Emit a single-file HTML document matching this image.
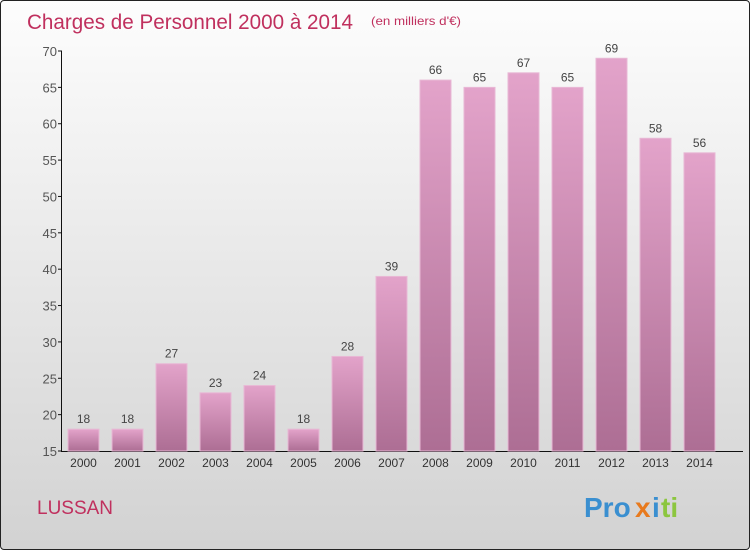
<!DOCTYPE html>
<html><head><meta charset="utf-8"><style>
body{margin:0;width:750px;height:550px;overflow:hidden}
#c{position:absolute;left:0;top:0;width:748px;height:548px;border:1px solid #222;border-radius:4px;background:linear-gradient(#fdfdfd,#d2d2d2);font-family:"Liberation Sans",sans-serif}
</style></head><body>
<div id="c">
<svg width="750" height="550" font-family="Liberation Sans">
<defs><linearGradient id="g" x1="0" y1="0" x2="0" y2="1"><stop offset="0" stop-color="#e3a3ca"/><stop offset="1" stop-color="#ad6e94"/></linearGradient></defs>
<text x="26" y="28" font-size="21" fill="#c0305e" textLength="326" lengthAdjust="spacingAndGlyphs">Charges de Personnel 2000 à 2014</text>
<text x="370" y="24" font-size="12" fill="#c0305e" textLength="90" lengthAdjust="spacingAndGlyphs">(en milliers d'€)</text>
<g id="axes"></g><g id="bars"></g>
<text x="36" y="513" font-size="19" fill="#c0305e">LUSSAN</text>
<g font-size="28" font-weight="bold">
<text x="583" y="516" fill="#3a8fd0">Pro</text><text x="634" y="516" fill="#e87a1d">x</text><text x="651" y="516" fill="#3a8fd0">i</text><text x="660" y="516" fill="#8cc63f">ti</text></g>
</svg></div>
<script>
const years=["2000","2001","2002","2003","2004","2005","2006","2007","2008","2009","2010","2011","2012","2013","2014"];
const values=[18,18,27,23,24,18,28,39,66,65,67,65,69,58,56];
const yTicks=[15,20,25,30,35,40,45,50,55,60,65,70];
const NS="http://www.w3.org/2000/svg";
const y=v=>450-(v-15)*400/55;
const x=i=>82.5+i*44;
function mk(t,a,p,txt){const e=document.createElementNS(NS,t);for(const k in a)e.setAttribute(k,a[k]);if(txt!==undefined)e.textContent=txt;p.appendChild(e);return e;}
const ax=document.getElementById('axes'),bs=document.getElementById('bars');
let l=mk('line',{x1:60.5,y1:50,x2:60.5,y2:450,stroke:'#111'},ax);


l=mk('line',{x1:60,y1:450.5,x2:742,y2:450.5,stroke:'#111'},ax);


yTicks.forEach(v=>{
 mk('line',{x1:57,y1:y(v),x2:61,y2:y(v),stroke:'#111'},ax);
 const t=mk('text',{x:56,y:y(v)+5,'text-anchor':'end','font-size':13,fill:'#555'},ax,v);
 
 
});
years.forEach((yr,i)=>{
 const v=values[i];
 const r=mk('rect',{x:x(i)-15.5,y:y(v),width:31,height:450-y(v),fill:'url(#g)',stroke:'#e8b8d5','stroke-width':1},bs);
 
 
 const t=mk('text',{x:x(i),y:y(v)-6,'text-anchor':'middle','font-size':12,fill:'#444'},bs,v);
 
 
 const xl=mk('text',{x:x(i),y:466,'text-anchor':'middle','font-size':12,fill:'#333'},ax,yr);
 
 
});
</script>
</body></html>
